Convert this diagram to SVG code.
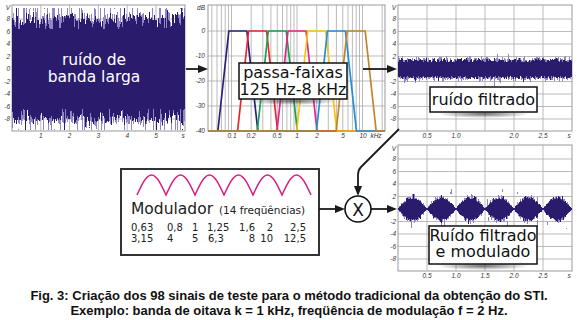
<svg xmlns="http://www.w3.org/2000/svg" xmlns:xlink="http://www.w3.org/1999/xlink" width="577" height="320" viewBox="0 0 577 320">
<style>
.ax{font-family:"Liberation Sans",Arial,sans-serif;font-size:6.5px;font-style:italic;fill:#333}
.r{text-anchor:end}
.c{text-anchor:middle}
.grid{stroke:#aaa;stroke-width:0.8;fill:none}
.frame{fill:#fff;stroke:#999;stroke-width:1}
.lbl{font-family:"DejaVu Sans",Verdana,sans-serif;font-size:16px;fill:#111;text-anchor:middle}
.box{fill:#fff;stroke:#111;stroke-width:1.5}
.conn{stroke:#1a1a1a;stroke-width:1.8;fill:none}
.band{fill:none;stroke-width:1.7;stroke-linejoin:round}
.num{font-family:"DejaVu Sans",Verdana,sans-serif;font-size:10px;fill:#222}
.cap{font-family:"Liberation Sans",Arial,sans-serif;font-size:13px;font-weight:bold;fill:#111;text-anchor:middle}
.navy{fill:#2a1b6c}
</style>
<defs>
<marker id="arr" markerUnits="userSpaceOnUse" markerWidth="10" markerHeight="8" refX="7" refY="4" orient="auto">
<path d="M0,0 L10,4 L0,8 z" fill="#1a1a1a"/>
</marker>
<radialGradient id="shd">
<stop offset="0" stop-color="#333" stop-opacity="0.7"/>
<stop offset="1" stop-color="#333" stop-opacity="0"/>
</radialGradient>
<linearGradient id="g1" gradientUnits="userSpaceOnUse" x1="0" y1="12" x2="0" y2="126">
<stop offset="0" stop-color="#fff"/><stop offset="0.5" stop-color="#000"/><stop offset="1" stop-color="#fff"/>
</linearGradient>
<linearGradient id="g3" gradientUnits="userSpaceOnUse" x1="0" y1="55" x2="0" y2="83">
<stop offset="0" stop-color="#fff"/><stop offset="0.5" stop-color="#000"/><stop offset="1" stop-color="#fff"/>
</linearGradient>
<filter id="nz1" filterUnits="userSpaceOnUse" x="12" y="8" width="173" height="122" color-interpolation-filters="sRGB">
<feColorMatrix in="SourceGraphic" type="matrix" values="0 0 0 0 0  0 0 0 0 0  0 0 0 0 0  1 0 0 0 0" result="g"/>
<feTurbulence type="fractalNoise" baseFrequency="0.55 0.015" numOctaves="3" seed="4" result="t1"/>
<feColorMatrix in="t1" type="matrix" values="0 0 0 0 0  0 0 0 0 0  0 0 0 0 0  1 0 0 0 0" result="a1"/>
<feComposite in="a1" in2="g" operator="arithmetic" k1="0" k2="0.7" k3="-1" k4="1.0" result="c1"/>
<feComponentTransfer in="c1" result="m1"><feFuncA type="discrete" tableValues="0 1"/></feComponentTransfer>
<feTurbulence type="fractalNoise" baseFrequency="0.7 0.015" numOctaves="3" seed="11" result="t2"/>
<feColorMatrix in="t2" type="matrix" values="0 0 0 0 0  0 0 0 0 0  0 0 0 0 0  1 0 0 0 0" result="a2"/>
<feComposite in="a2" in2="g" operator="arithmetic" k1="0" k2="0.9" k3="-1" k4="0.95" result="c2"/>
<feComponentTransfer in="c2" result="m2"><feFuncA type="discrete" tableValues="0 1"/></feComponentTransfer>
<feFlood flood-color="#8f86c6"/><feComposite in2="m2" operator="in" result="L"/>
<feFlood flood-color="#2a1b6c"/><feComposite in2="m1" operator="in" result="D"/>
<feMerge><feMergeNode in="L"/><feMergeNode in="D"/></feMerge>
</filter>
<filter id="nz3" filterUnits="userSpaceOnUse" x="398" y="52" width="174" height="34" color-interpolation-filters="sRGB">
<feColorMatrix in="SourceGraphic" type="matrix" values="0 0 0 0 0  0 0 0 0 0  0 0 0 0 0  1 0 0 0 0" result="g"/>
<feTurbulence type="fractalNoise" baseFrequency="0.6 0.04" numOctaves="3" seed="7" result="t1"/>
<feColorMatrix in="t1" type="matrix" values="0 0 0 0 0  0 0 0 0 0  0 0 0 0 0  1 0 0 0 0" result="a1"/>
<feComposite in="a1" in2="g" operator="arithmetic" k1="0" k2="0.8" k3="-1" k4="0.7" result="c1"/>
<feComponentTransfer in="c1" result="m1"><feFuncA type="discrete" tableValues="0 1"/></feComponentTransfer>
<feTurbulence type="fractalNoise" baseFrequency="0.7 0.04" numOctaves="3" seed="23" result="t2"/>
<feColorMatrix in="t2" type="matrix" values="0 0 0 0 0  0 0 0 0 0  0 0 0 0 0  1 0 0 0 0" result="a2"/>
<feComposite in="a2" in2="g" operator="arithmetic" k1="0" k2="1.0" k3="-1" k4="0.68" result="c2"/>
<feComponentTransfer in="c2" result="m2"><feFuncA type="discrete" tableValues="0 1"/></feComponentTransfer>
<feFlood flood-color="#8f86c6"/><feComposite in2="m2" operator="in" result="L"/>
<feFlood flood-color="#2a1b6c"/><feComposite in2="m1" operator="in" result="D"/>
<feMerge><feMergeNode in="L"/><feMergeNode in="D"/></feMerge>
</filter>
<filter id="nz4" filterUnits="userSpaceOnUse" x="398" y="189" width="174" height="40" color-interpolation-filters="sRGB">
<feColorMatrix in="SourceGraphic" type="matrix" values="0 0 0 0 0  0 0 0 0 0  0 0 0 0 0  1 0 0 0 0" result="g"/>
<feTurbulence type="fractalNoise" baseFrequency="0.6 0.05" numOctaves="3" seed="5" result="t1"/>
<feColorMatrix in="t1" type="matrix" values="0 0 0 0 0  0 0 0 0 0  0 0 0 0 0  1 0 0 0 0" result="a1"/>
<feComposite in="a1" in2="g" operator="arithmetic" k1="0" k2="0.9" k3="-1" k4="0.72" result="c1"/>
<feComponentTransfer in="c1" result="m1"><feFuncA type="discrete" tableValues="0 1"/></feComponentTransfer>
<feTurbulence type="fractalNoise" baseFrequency="0.7 0.05" numOctaves="3" seed="31" result="t2"/>
<feColorMatrix in="t2" type="matrix" values="0 0 0 0 0  0 0 0 0 0  0 0 0 0 0  1 0 0 0 0" result="a2"/>
<feComposite in="a2" in2="g" operator="arithmetic" k1="0" k2="1.0" k3="-1" k4="0.74" result="c2"/>
<feComponentTransfer in="c2" result="m2"><feFuncA type="discrete" tableValues="0 1"/></feComponentTransfer>
<feFlood flood-color="#8f86c6"/><feComposite in2="m2" operator="in" result="L"/>
<feFlood flood-color="#2a1b6c"/><feComposite in2="m1" operator="in" result="D"/>
<feMerge><feMergeNode in="L"/><feMergeNode in="D"/></feMerge>
</filter>
<path id="lobes" d="M398,0 C402.73,-8.71 407.25,-17 412.5,-17 C417.75,-17 422.27,-8.71 427,0 C422.27,8.71 417.75,17 412.5,17 C407.25,17 402.73,8.71 398,0Z M427,0 C431.73,-8.71 436.25,-17 441.5,-17 C446.75,-17 451.27,-8.71 456,0 C451.27,8.71 446.75,17 441.5,17 C436.25,17 431.73,8.71 427,0Z M456,0 C460.73,-8.71 465.25,-17 470.5,-17 C475.75,-17 480.27,-8.71 485,0 C480.27,8.71 475.75,17 470.5,17 C465.25,17 460.73,8.71 456,0Z M485,0 C489.73,-8.71 494.25,-17 499.5,-17 C504.75,-17 509.27,-8.71 514,0 C509.27,8.71 504.75,17 499.5,17 C494.25,17 489.73,8.71 485,0Z M514,0 C518.73,-8.71 523.25,-17 528.5,-17 C533.75,-17 538.27,-8.71 543,0 C538.27,8.71 533.75,17 528.5,17 C523.25,17 518.73,8.71 514,0Z M543,0 C547.73,-8.71 552.25,-17 557.5,-17 C562.75,-17 567.27,-8.71 572,0 C567.27,8.71 562.75,17 557.5,17 C552.25,17 547.73,8.71 543,0Z"/>
</defs>
<rect width="577" height="320" fill="#fff"/>

<g id="panel-wideband">
<rect class="frame" x="12" y="5" width="173" height="126"/>
<path class="grid" d="M40.8,5V131M69.6,5V131M98.4,5V131M127.2,5V131M156,5V131M12,19H185M12,31.5H185M12,44H185M12,56.5H185M12,69H185M12,81.5H185M12,94H185M12,106.5H185M12,119H185"/>
<rect x="12" y="8" width="173" height="122" fill="url(#g1)" filter="url(#nz1)"/>
<rect class="navy" x="12" y="29" width="173" height="80"/>
<g class="ax r">
<text x="10" y="10">V</text><text x="10" y="21.3">8</text><text x="10" y="33.8">6</text><text x="10" y="46.3">4</text><text x="10" y="58.8">2</text><text x="10" y="71.3">0</text><text x="10" y="83.8">-2</text><text x="10" y="96.3">-4</text><text x="10" y="108.8">-6</text><text x="10" y="121.3">-8</text>
</g>
<g class="ax c">
<text x="40.8" y="138">1</text><text x="69.6" y="138">2</text><text x="98.4" y="138">3</text><text x="127.2" y="138">4</text><text x="156" y="138">5</text><text x="183" y="138">s</text>
</g>
<text x="94" y="65" class="lbl" style="fill:#fff;font-size:15.5px">ruído de</text>
<text x="94" y="82" class="lbl" style="fill:#fff;font-size:15.5px">banda larga</text>
</g>

<g id="panel-bandpass">
<rect class="frame" x="208" y="5" width="177" height="126"/>
<path class="grid" d="M208,31H385M208,56H385M208,81H385M208,106H385M211.8,5V131M217,5V131M221.4,5V131M225.2,5V131M228.5,5V131M231.5,5V131M251.2,5V131M262.8,5V131M270.9,5V131M277.3,5V131M282.5,5V131M286.9,5V131M290.7,5V131M294,5V131M297,5V131M316.7,5V131M328.3,5V131M336.4,5V131M342.8,5V131M348,5V131M352.4,5V131M356.2,5V131M359.5,5V131M362.5,5V131M382.2,5V131"/>
<polyline class="band" stroke="#28207a" points="208,131 217.85,131 228.85,31 246.85,31 257.85,131 385,131"/>
<polyline class="band" stroke="#e8262e" points="208,131 237.57,131 248.57,31 266.57,31 277.57,131 385,131"/>
<polyline class="band" stroke="#16a04a" points="208,131 257.29,131 268.29,31 286.29,31 297.29,131 385,131"/>
<polyline class="band" stroke="#e0268a" points="208,131 277.01,131 288.01,31 306.01,31 317.01,131 385,131"/>
<polyline class="band" stroke="#f7c510" points="208,131 296.73,131 307.73,31 325.73,31 336.73,131 385,131"/>
<polyline class="band" stroke="#1e8fd8" points="208,131 316.45,131 327.45,31 345.45,31 356.45,131 385,131"/>
<polyline class="band" stroke="#c08428" points="208,131 336.17,131 347.17,31 365.17,31 376.17,131 385,131"/>
<g class="ax r">
<text x="205" y="10">dB</text><text x="205" y="33.3">0</text><text x="205" y="58.3">-10</text><text x="205" y="83.3">-20</text><text x="205" y="108.3">-30</text><text x="205" y="133.3">-40</text>
</g>
<g class="ax c">
<text x="232" y="138">0.1</text><text x="251" y="138">0.2</text><text x="277" y="138">0.5</text><text x="297" y="138">1</text><text x="317" y="138">2</text><text x="343" y="138">5</text><text x="363" y="138">10</text><text x="376" y="138">kHz</text>
</g>
<ellipse cx="293" cy="101" rx="46" ry="4" fill="url(#shd)"/>
<rect class="box" x="239" y="63" width="108" height="36"/>
<text x="293" y="77.5" class="lbl">passa-faixas</text>
<text x="293" y="94.5" class="lbl">125 Hz-8 kHz</text>
</g>

<g id="panel-filtered">
<rect class="frame" x="398" y="5" width="174" height="126"/>
<path class="grid" d="M427,5V131M456,5V131M485,5V131M514,5V131M543,5V131M398,19H572M398,31.5H572M398,44H572M398,56.5H572M398,69H572M398,81.5H572M398,94H572M398,106.5H572M398,119H572"/>
<rect x="398" y="52" width="174" height="34" fill="url(#g3)" filter="url(#nz3)"/>
<rect class="navy" x="398" y="62" width="174" height="14"/>
<g class="ax r">
<text x="396" y="10">V</text><text x="396" y="21.3">8</text><text x="396" y="33.8">6</text><text x="396" y="46.3">4</text><text x="396" y="58.8">2</text><text x="396" y="83.8">-2</text><text x="396" y="96.3">-4</text><text x="396" y="108.8">-6</text><text x="396" y="121.3">-8</text>
</g>
<g class="ax c">
<text x="427" y="138">0.5</text><text x="456" y="138">1.0</text><text x="514" y="138">2.0</text><text x="543" y="138">2.5</text><text x="569" y="138">s</text>
</g>
<ellipse cx="483.5" cy="114" rx="46" ry="4" fill="url(#shd)"/>
<rect class="box" x="430" y="87" width="107" height="25"/>
<text x="483.5" y="104.5" class="lbl">ruído filtrado</text>
</g>

<g id="panel-modulated">
<rect class="frame" x="398" y="145" width="174" height="126"/>
<path class="grid" d="M427,145V271M456,145V271M485,145V271M514,145V271M543,145V271M398,159H572M398,171.5H572M398,184H572M398,196.5H572M398,209H572M398,221.5H572M398,234H572M398,246.5H572M398,259H572"/>
<rect class="navy" x="398" y="208" width="174" height="2"/>
<g filter="url(#nz4)">
<rect x="398" y="189" width="174" height="40" fill="#fff"/>
<use xlink:href="#lobes" transform="translate(0,209) scale(1,1)" fill="#fff"/>
<use xlink:href="#lobes" transform="translate(0,209) scale(1,0.95)" fill="#f2f2f2"/>
<use xlink:href="#lobes" transform="translate(0,209) scale(1,0.9)" fill="#e6e6e6"/>
<use xlink:href="#lobes" transform="translate(0,209) scale(1,0.85)" fill="#d9d9d9"/>
<use xlink:href="#lobes" transform="translate(0,209) scale(1,0.8)" fill="#cccccc"/>
<use xlink:href="#lobes" transform="translate(0,209) scale(1,0.75)" fill="#bfbfbf"/>
<use xlink:href="#lobes" transform="translate(0,209) scale(1,0.7)" fill="#b3b3b3"/>
<use xlink:href="#lobes" transform="translate(0,209) scale(1,0.65)" fill="#a6a6a6"/>
<use xlink:href="#lobes" transform="translate(0,209) scale(1,0.6)" fill="#999999"/>
<use xlink:href="#lobes" transform="translate(0,209) scale(1,0.55)" fill="#8c8c8c"/>
<use xlink:href="#lobes" transform="translate(0,209) scale(1,0.5)" fill="#808080"/>
<use xlink:href="#lobes" transform="translate(0,209) scale(1,0.45)" fill="#737373"/>
<use xlink:href="#lobes" transform="translate(0,209) scale(1,0.4)" fill="#666666"/>
<use xlink:href="#lobes" transform="translate(0,209) scale(1,0.35)" fill="#595959"/>
<use xlink:href="#lobes" transform="translate(0,209) scale(1,0.3)" fill="#4d4d4d"/>
<use xlink:href="#lobes" transform="translate(0,209) scale(1,0.25)" fill="#404040"/>
<use xlink:href="#lobes" transform="translate(0,209) scale(1,0.2)" fill="#333333"/>
<use xlink:href="#lobes" transform="translate(0,209) scale(1,0.15)" fill="#262626"/>
<use xlink:href="#lobes" transform="translate(0,209) scale(1,0.1)" fill="#1a1a1a"/>
<use xlink:href="#lobes" transform="translate(0,209) scale(1,0.05)" fill="#0d0d0d"/>
</g>
<use xlink:href="#lobes" class="navy" transform="translate(0,209) scale(1,0.6)"/>
<g class="ax r">
<text x="396" y="151">V</text><text x="396" y="161.3">8</text><text x="396" y="173.8">6</text><text x="396" y="186.3">4</text><text x="396" y="198.8">2</text><text x="396" y="223.8">-2</text><text x="396" y="236.3">-4</text><text x="396" y="248.8">-6</text><text x="396" y="261.3">-8</text>
</g>
<g class="ax c">
<text x="427" y="278">0.5</text><text x="456" y="278">1.0</text><text x="485" y="278">1.5</text><text x="514" y="278">2.0</text><text x="543" y="278">2.5</text><text x="569" y="278">s</text>
</g>
<ellipse cx="483" cy="266" rx="46" ry="4" fill="url(#shd)"/>
<rect class="box" x="429" y="226" width="108" height="38"/>
<text x="483" y="240.5" class="lbl">Ruído filtrado</text>
<text x="483" y="257" class="lbl">e modulado</text>
</g>

<g id="modulator">
<rect x="121" y="169" width="198" height="86" fill="#fff" stroke="#333" stroke-width="2"/>
<path fill="none" stroke="#d81b7c" stroke-width="1.5" d="M137,195 C141.73,184.75 146.25,175 151.5,175 C156.75,175 161.27,184.75 166,195 C170.73,184.75 175.25,175 180.5,175 C185.75,175 190.27,184.75 195,195 C199.73,184.75 204.25,175 209.5,175 C214.75,175 219.27,184.75 224,195 C228.73,184.75 233.25,175 238.5,175 C243.75,175 248.27,184.75 253,195 C257.73,184.75 262.25,175 267.5,175 C272.75,175 277.27,184.75 282,195 C286.73,184.75 291.25,175 296.5,175 C301.75,175 306.27,184.75 311,195"/>
<text x="131" y="214" class="num" style="font-size:15.5px">Modulador</text>
<text x="219" y="214" class="num" style="font-size:10.5px">(14 freqüências)</text>
<g class="num">
<text x="131" y="231">0,63</text><text x="167" y="231">0,8</text><text x="192" y="231">1</text><text x="207" y="231">1,25</text><text x="255" y="231" text-anchor="end">1,6</text><text x="273" y="231" text-anchor="end">2</text><text x="306" y="231" text-anchor="end">2,5</text>
<text x="131" y="241.5">3,15</text><text x="167" y="241.5">4</text><text x="192" y="241.5">5</text><text x="208" y="241.5">6,3</text><text x="255" y="241.5" text-anchor="end">8</text><text x="273" y="241.5" text-anchor="end">10</text><text x="306" y="241.5" text-anchor="end">12,5</text>
</g>
</g>

<g id="connectors">
<path class="conn" d="M186,69H205" marker-end="url(#arr)"/>
<path class="conn" d="M363,69H394" marker-end="url(#arr)"/>
<path class="conn" d="M399,129 L361,167 Q358,170 358,175 V193" marker-end="url(#arr)"/>
<path class="conn" d="M319,209H342" marker-end="url(#arr)"/>
<path class="conn" d="M371,209H394" marker-end="url(#arr)"/>
</g>

<g id="multiplier">
<circle cx="358" cy="209" r="13" fill="#fff" stroke="#111" stroke-width="1.6"/>
<text x="358" y="215.5" class="lbl" style="font-size:17px">X</text>
</g>

<g id="caption">
<text x="289" y="300" class="cap">Fig. 3: Criação dos 98 sinais de teste para o método tradicional da obtenção do STI.</text>
<text x="289" y="315" class="cap">Exemplo: banda de oitava k = 1 kHz, freqüência de modulação f = 2 Hz.</text>
</g>
</svg>
